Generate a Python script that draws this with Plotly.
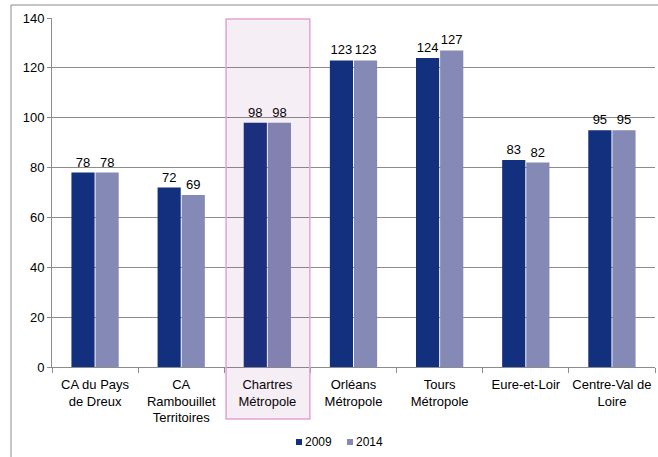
import plotly.graph_objects as go

# Territories and values for each year
categories = [
    "CA du Pays<br>de Dreux",
    "CA<br>Rambouillet<br>Territoires",
    "Chartres<br>Métropole",
    "Orléans<br>Métropole",
    "Tours<br>Métropole",
    "Eure-et-Loir",
    "Centre-Val de<br>Loire",
]
values_2009 = [78, 72, 98, 123, 124, 83, 95]
values_2014 = [78, 69, 98, 123, 127, 82, 95]
y_ticks = [0, 20, 40, 60, 80, 100, 120, 140]
years = ["2009", "2014"]
colors = ["#13307f", "#8489b5"]

FONT = "Liberation Sans, Arial, sans-serif"
GRID = "#8c8c8c"

# Plot-area geometry in pixels, used to place paper-referenced decorations
L, R, T, B = 52, 3, 18, 90
W, H = 658, 457
PW, PH = W - L - R, H - T - B


def px_x(x):
    return (x - L) / PW


def px_y(y):
    return (H - B - y) / PH


fig = go.Figure()
for name, vals, col in zip(years, [values_2009, values_2014], colors):
    fig.add_trace(go.Bar(
        name=name, x=categories, y=vals,
        marker=dict(color=col, line=dict(width=0)),
        text=vals, textposition="outside",
        textfont=dict(size=13, color="#000000", family=FONT),
        cliponaxis=False, showlegend=False,
    ))

# Highlight box around the Chartres Métropole group (x in paper units)
n = len(categories)
fig.add_shape(type="rect", xref="paper", yref="paper",
              x0=2 / n + 0.003, x1=3 / n - 0.001, y0=px_y(419), y1=px_y(19),
              fillcolor="rgba(130,40,115,0.08)",
              line=dict(color="#e3a3d6", width=1.5), layer="above")

# Outer frame lines (top and left)
fig.add_shape(type="line", xref="paper", yref="paper",
              x0=px_x(11), x1=px_x(670), y0=px_y(5), y1=px_y(5),
              line=dict(color="#8a8a8a", width=1))
fig.add_shape(type="line", xref="paper", yref="paper",
              x0=px_x(11), x1=px_x(11), y0=px_y(5), y1=px_y(470),
              line=dict(color="#8a8a8a", width=1))

# Legend: small squares followed by the year
legend_x = [296, 347]
for name, col, lx in zip(years, colors, legend_x):
    fig.add_shape(type="rect", xref="paper", yref="paper",
                  x0=px_x(lx), x1=px_x(lx + 6), y0=px_y(445), y1=px_y(439),
                  fillcolor=col, line=dict(width=0))
    fig.add_annotation(xref="paper", yref="paper", x=px_x(lx + 7), y=px_y(442),
                       text=name, showarrow=False, xanchor="left", yanchor="middle",
                       font=dict(size=12, family=FONT, color="#000000"))

fig.update_layout(
    width=W, height=H,
    margin=dict(l=L, r=R, t=T, b=B, autoexpand=False),
    paper_bgcolor="white", plot_bgcolor="white",
    barmode="group", bargap=0.44, bargroupgap=0.04,
    font=dict(family=FONT, size=13, color="#000000"),
    showlegend=False,
)
fig.update_xaxes(
    showline=True, linecolor=GRID, linewidth=1,
    ticks="outside", tickson="boundaries", ticklen=5, tickcolor=GRID,
    showgrid=False, tickfont=dict(size=13, family=FONT),
    tickangle=0, automargin=False, ticklabelstandoff=5,
)
fig.update_yaxes(
    range=[0, 140], tickvals=y_ticks,
    showline=True, linecolor=GRID, linewidth=1,
    ticks="outside", ticklen=4, tickcolor=GRID,
    showgrid=True, gridcolor=GRID, gridwidth=1,
    zeroline=False, tickfont=dict(size=13, family=FONT),
    automargin=False,
)

fig.write_html("out.html")
